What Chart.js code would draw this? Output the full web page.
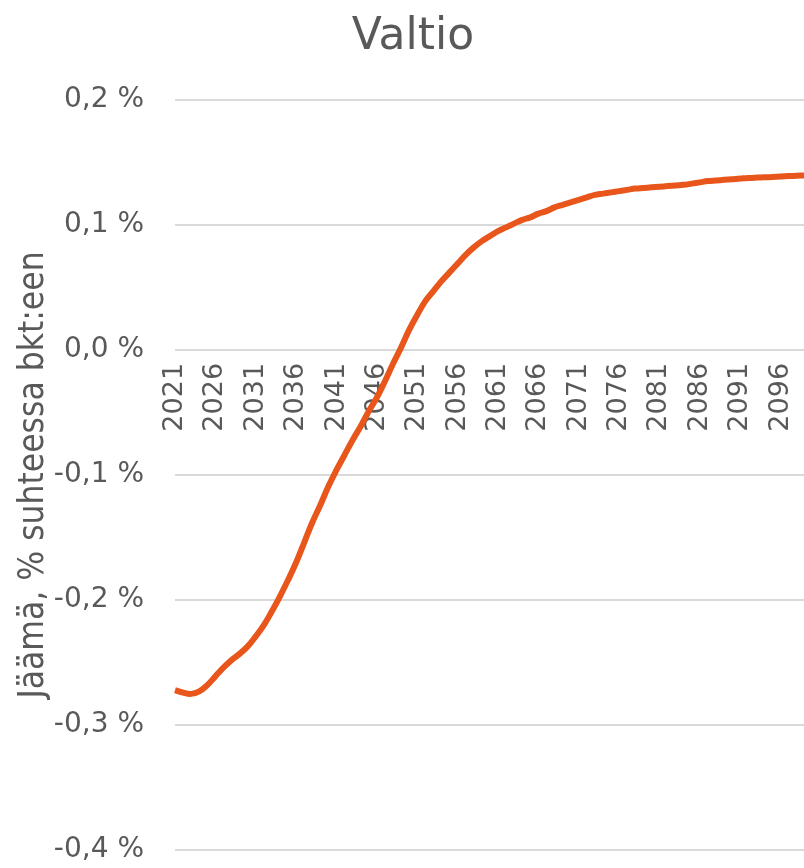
<!DOCTYPE html>
<html>
<head>
<meta charset="utf-8">
<title>Valtio</title>
<script src="https://cdn.jsdelivr.net/npm/chart.js@4"></script>
<style>
  html, body { margin: 0; padding: 0; background: #fff; overflow: hidden; }
  #wrap { width: 826px; height: 898px; position: relative; }
</style>
</head>
<body>
<div id="wrap"><canvas id="chart"></canvas></div>
<script>
// vuodet 2021-2099
const years = [
    '2021', '2022', '2023', '2024', '2025', '2026', '2027', '2028', '2029', '2030',
    '2031', '2032', '2033', '2034', '2035', '2036', '2037', '2038', '2039', '2040',
    '2041', '2042', '2043', '2044', '2045', '2046', '2047', '2048', '2049', '2050',
    '2051', '2052', '2053', '2054', '2055', '2056', '2057', '2058', '2059', '2060',
    '2061', '2062', '2063', '2064', '2065', '2066', '2067', '2068', '2069', '2070',
    '2071', '2072', '2073', '2074', '2075', '2076', '2077', '2078', '2079', '2080',
    '2081', '2082', '2083', '2084', '2085', '2086', '2087', '2088', '2089', '2090',
    '2091', '2092', '2093', '2094', '2095', '2096', '2097', '2098', '2099'
];

// jäämä, % suhteessa bkt:een
const valtio = [
    -0.272, -0.274, -0.275, -0.273, -0.268, -0.261, -0.254, -0.248, -0.243, -0.237,
    -0.229, -0.220, -0.209, -0.197, -0.184, -0.170, -0.154, -0.138, -0.124, -0.109,
    -0.096, -0.084, -0.072, -0.061, -0.049, -0.038, -0.025, -0.011, 0.002, 0.016,
    0.028, 0.039, 0.047, 0.055, 0.062, 0.069, 0.076, 0.082, 0.087, 0.091,
    0.095, 0.098, 0.101, 0.104, 0.106, 0.109, 0.111, 0.114, 0.116, 0.118,
    0.120, 0.122, 0.124, 0.125, 0.126, 0.127, 0.128, 0.129, 0.1295, 0.130,
    0.1305, 0.131, 0.1315, 0.132, 0.133, 0.134, 0.135, 0.1355, 0.136, 0.1365,
    0.137, 0.1375, 0.1378, 0.138, 0.1383, 0.1386, 0.139, 0.1393, 0.1395
];

const yMin = -0.4;
const yMax = 0.2;
const yStep = 0.1;
const labelEvery = 5;

const textColor = '#595959';
const gridColor = '#D9D9D9';
const lineColor = '#E8561B';

const fmtPct = (v) => v.toFixed(1).replace('.', ',').replace('-0,0', '0,0') + ' %';

// canvas is a bit larger than the window so the plot runs to the right/bottom edge
const ctx = document.getElementById('chart').getContext('2d');
new Chart(ctx, {
    type: 'line',
    data: {
        labels: years,
        datasets: [{
            label: 'Valtio',
            data: valtio,
            borderColor: lineColor,
            borderWidth: 6,
            pointRadius: 0,
            fill: false,
            tension: 0.4
        }]
    },
    options: {
        responsive: true,
        maintainAspectRatio: false,
        animation: false,
        plugins: {
            legend: { display: false },
            tooltip: { enabled: false },
            title: {
                display: true,
                text: 'Valtio',
                color: textColor,
                font: { family: 'DejaVu Sans', size: 44, weight: 'normal' },
                padding: { top: 11, bottom: 36 }
            }
        },
        scales: {
            x: {
                position: { y: 0 },
                grid: { display: false, drawTicks: false },
                border: { display: false },
                ticks: {
                    autoSkip: false,
                    minRotation: 90,
                    maxRotation: 90,
                    padding: 13,
                    color: textColor,
                    font: { family: 'DejaVu Sans', size: 27 },
                    callback: (val, i) => (i % labelEvery === 0 ? years[i] : null)
                }
            },
            y: {
                min: yMin,
                max: yMax,
                grid: { color: gridColor, lineWidth: 2, drawTicks: false },
                border: { display: false },
                ticks: {
                    stepSize: yStep,
                    padding: 31,
                    color: textColor,
                    font: { family: 'DejaVu Sans', size: 28 },
                    callback: (v) => fmtPct(v)
                },
                title: {
                    display: true,
                    text: 'Jäämä, % suhteessa bkt:een',
                    color: textColor,
                    font: { family: "'DejaVu Sans Condensed', 'Liberation Sans Narrow', 'DejaVu Sans'", size: 35 },
                    padding: { top: 13, bottom: 9 }
                },
                afterFit: (s) => { s.width = 175; }
            }
        }
    }
});
</script>
</body>
</html>
